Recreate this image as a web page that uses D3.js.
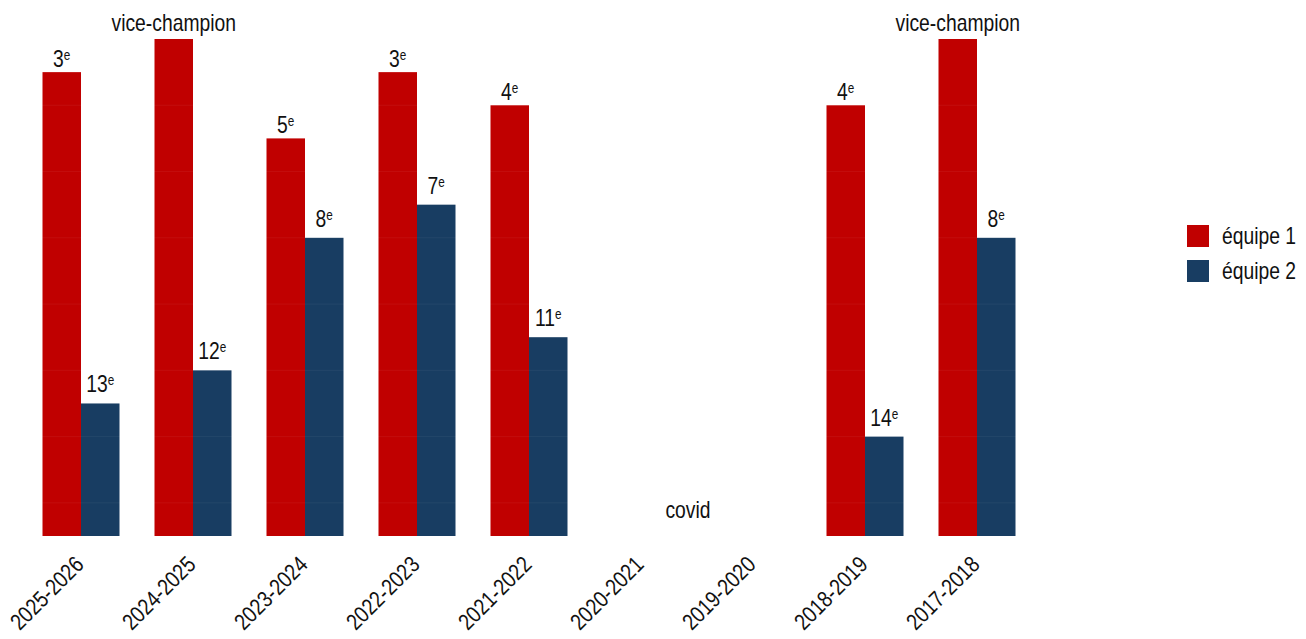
<!DOCTYPE html>
<html>
<head>
<meta charset="utf-8">
<script src="https://cdn.jsdelivr.net/npm/d3@7"></script>
<style>
  html, body { margin: 0; padding: 0; background: #fff; }
  svg { display: block; }
  text { font-family: "Liberation Sans", Arial, sans-serif; fill: #111; }
</style>
</head>
<body>
<svg id="chart" width="1306" height="639"></svg>
<script>
const seasons = ['2025-2026','2024-2025','2023-2024','2022-2023','2021-2022','2020-2021','2019-2020','2018-2019','2017-2018'];
const seriesNames = ['équipe 1', 'équipe 2'];
const team1Ranks = [3, 2, 5, 3, 4, null, null, 4, 2];
const team2Ranks = [13, 12, 8, 7, 11, null, null, 14, 8];
const seriesColors = ['#C00000', '#183D62'];
const noteText = 'covid';
const rankDomain = [17, 2];
const gridRanks = [4, 6, 8, 10, 12, 14, 16];

const svg = d3.select('#chart');
const fontSize = 23;
const narrow = 0.84; // condensed look of the reference font

const x = d3.scaleBand().domain(seasons).range([25, 1033]).paddingInner(0.3125).paddingOuter(0.15625);
const xs = d3.scaleBand().domain(seriesNames).range([0, x.bandwidth()]);
const y = d3.scaleLinear().domain(rankDomain).range([536, 39]);
const color = d3.scaleOrdinal().domain(seriesNames).range(seriesColors);

const rows = [];
seasons.forEach((s, i) => {
  rows.push({season: s, series: seriesNames[0], rank: team1Ranks[i]});
  rows.push({season: s, series: seriesNames[1], rank: team2Ranks[i]});
});
const valid = rows.filter(d => d.rank != null);

const g = svg.append('g');
g.selectAll('rect.bar').data(valid).join('rect')
  .attr('class', 'bar')
  .attr('x', d => x(d.season) + xs(d.series))
  .attr('width', xs.bandwidth())
  .attr('y', d => y(d.rank))
  .attr('height', d => y(rankDomain[0]) - y(d.rank))
  .attr('fill', d => color(d.series));

// faint grid lines over bars
g.selectAll('line.grid').data(gridRanks).join('line')
  .attr('class', 'grid')
  .attr('x1', x.range()[0]).attr('x2', x.range()[1])
  .attr('y1', d => y(d)).attr('y2', d => y(d))
  .attr('stroke', '#ffffff').attr('stroke-opacity', 0.05).attr('stroke-width', 1);

// value labels
const labels = g.selectAll('text.val').data(valid).join('text')
  .attr('class', 'val')
  .attr('transform', d => {
    const lx = x(d.season) + xs(d.series) + xs.bandwidth() / 2;
    const ly = y(d.rank) - (d.rank === 2 ? 8 : (d.series === seriesNames[0] ? 5 : 11));
    return `translate(${lx},${ly}) scale(${narrow},1)`;
  })
  .attr('text-anchor', 'middle')
  .style('font-size', fontSize + 'px');
labels.each(function(d) {
  const t = d3.select(this);
  if (d.rank === 2) {
    t.text('vice-champion');
  } else {
    t.append('tspan').text(d.rank);
    t.append('tspan').text('e').attr('dy', -7).style('font-size', '14px');
  }
});

// covid note
const mid = (x(seasons[5]) + x(seasons[6]) + x.bandwidth()) / 2;
g.append('text')
  .attr('transform', `translate(${mid - 9},518) scale(${narrow},1)`)
  .attr('text-anchor', 'middle')
  .style('font-size', fontSize + 'px')
  .text(noteText);

// x axis labels (rotated)
const axis = g.append('g').attr('transform', 'translate(0,536)')
  .call(d3.axisBottom(x).tickSize(0).tickPadding(0));
axis.select('.domain').remove();
axis.selectAll('.tick text')
  .attr('x', 0).attr('y', 0).attr('dy', 0)
  .attr('text-anchor', 'end')
  .attr('transform', `translate(4,30) rotate(-45) scale(${narrow},1)`)
  .style('font-size', fontSize + 'px')
  .style('font-family', '"Liberation Sans", Arial, sans-serif')
  .attr('fill', '#111');

// legend
const leg = svg.append('g').attr('transform', 'translate(1187,225)');
seriesNames.forEach((n, i) => {
  const row = leg.append('g').attr('transform', `translate(0,${i * 35})`);
  row.append('rect').attr('width', 22).attr('height', 22).attr('fill', color(n));
  row.append('text').attr('transform', `translate(35,19) scale(${narrow},1)`)
    .style('font-size', fontSize + 'px').text(n);
});
</script>
</body>
</html>
